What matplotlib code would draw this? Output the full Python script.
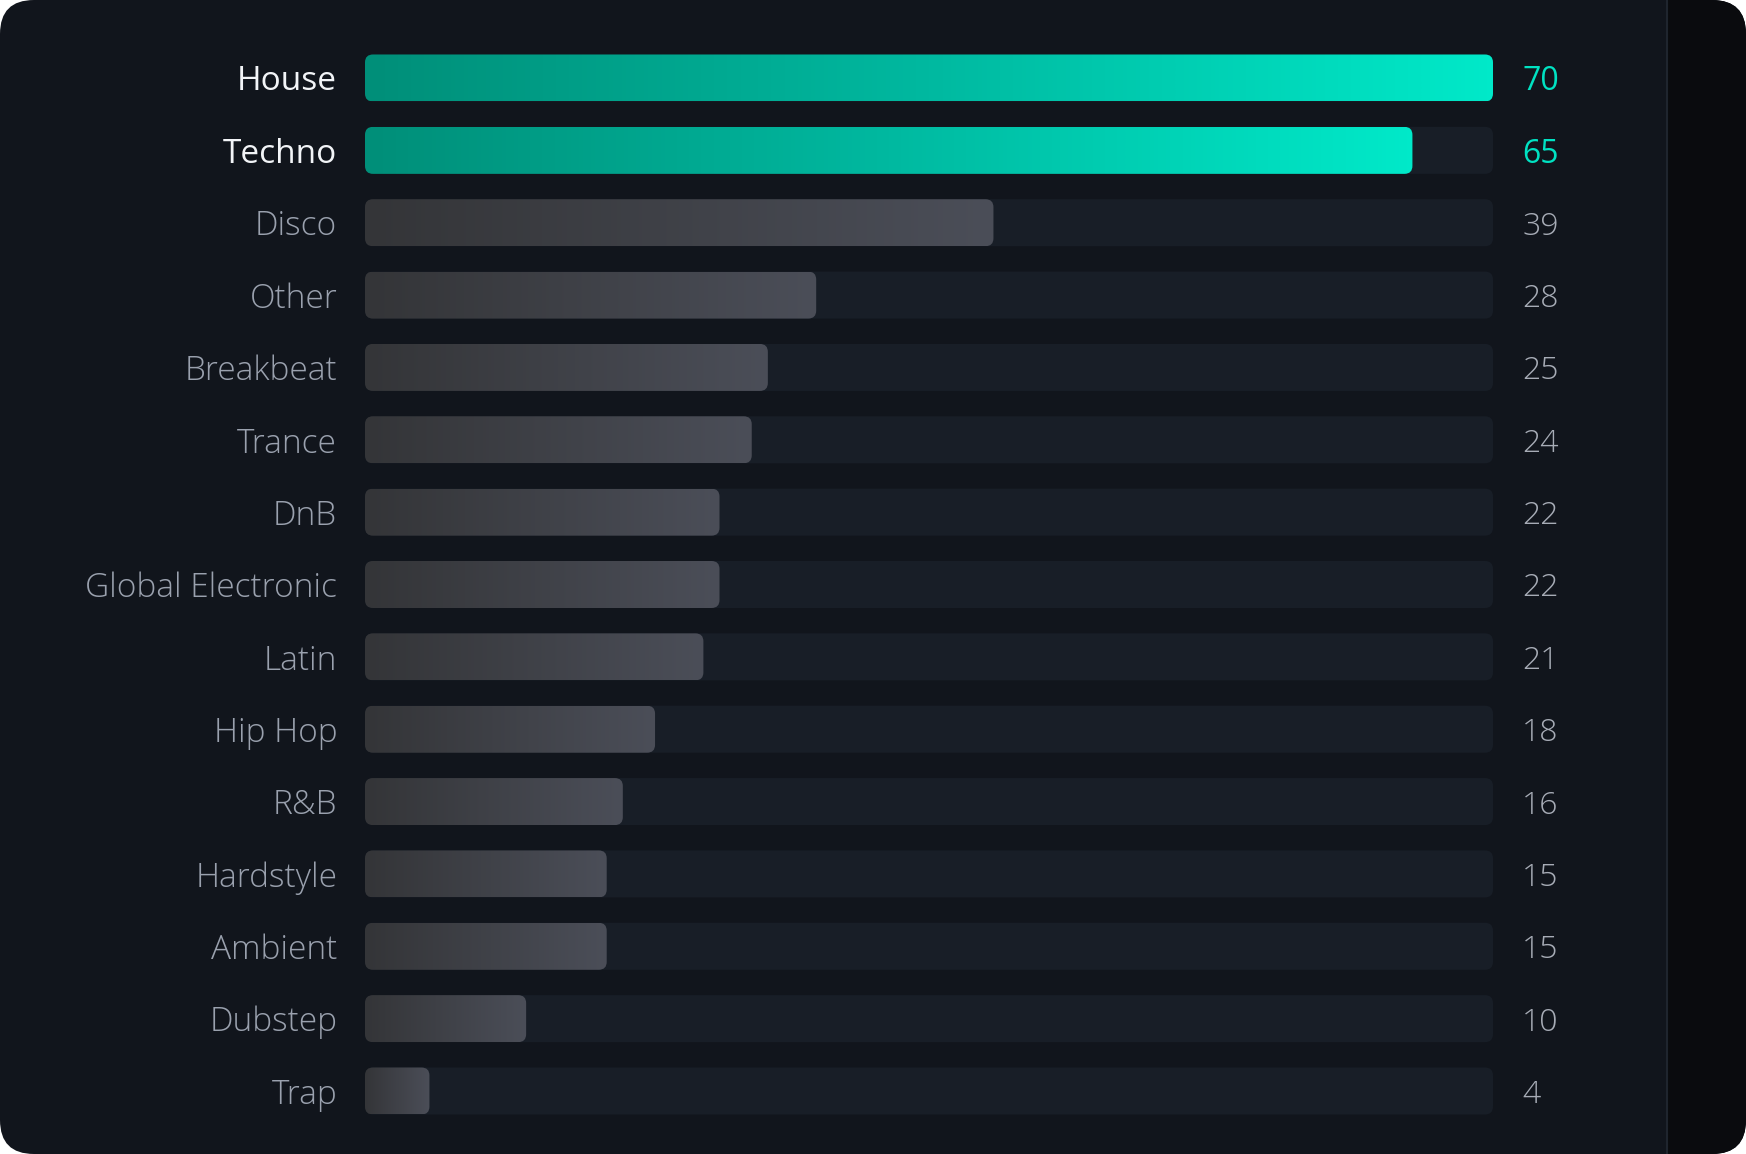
import numpy as np
import matplotlib
matplotlib.use("Agg")
import matplotlib.pyplot as plt
from matplotlib.patches import FancyBboxPatch, Rectangle
from matplotlib.colors import LinearSegmentedColormap
import matplotlib.transforms as mtransforms

genres = ["House", "Techno", "Disco", "Other", "Breakbeat", "Trance", "DnB",
          "Global Electronic", "Latin", "Hip Hop", "R&B", "Hardstyle",
          "Ambient", "Dubstep", "Trap"]
counts = [70, 65, 39, 28, 25, 24, 22, 22, 21, 18, 16, 15, 15, 10, 4]
highlight = [True, True] + [False] * 13

W, H = 1746, 1154
DPI = 100
plt.rcParams['font.family'] = ['Open Sans', 'DejaVu Sans']

fig = plt.figure(figsize=(W / DPI, H / DPI), dpi=DPI, facecolor='white')

# card background (pixel coordinates)
bg = fig.add_axes([0, 0, 1, 1])
bg.set_xlim(0, W)
bg.set_ylim(H, 0)
bg.axis('off')
card = FancyBboxPatch((0, 0), W, H, boxstyle="round,pad=0,rounding_size=34",
                      facecolor='#11151c', edgecolor='none')
bg.add_patch(card)
side = Rectangle((1667, 0), W - 1667, H, facecolor='#0a0b0e', edgecolor='none')
bg.add_patch(side)
side.set_clip_path(card)
bg.plot([1667, 1667], [0, H], color='#1f252e', lw=1.5)

# chart axes
x0, x1 = 365, 1493
row = (1091 - 78) / 14
top = 78 - row / 2
bot = 1091 + row / 2
ax = fig.add_axes([x0 / W, 1 - bot / H, (x1 - x0) / W, (bot - top) / H])
ax.set_facecolor('none')
vmax = max(counts)
for s in ax.spines.values():
    s.set_visible(False)
ax.set_xticks([])
ax.set_yticks(range(len(genres)))
ax.set_yticklabels(genres)
ax.tick_params(axis='y', length=0, pad=20)
for lbl, hl in zip(ax.get_yticklabels(), highlight):
    lbl.set_fontsize(24)
    lbl.set_verticalalignment('center_baseline')
    if hl:
        lbl.set_color('#f2f4f7')
        lbl.set_fontweight('medium')
    else:
        lbl.set_color('#9aa1ae')
        lbl.set_fontweight('light')

px_x = (x1 - x0) / vmax
aspect = px_x / row
rsize = 8 / px_x
bh = 47 / row

teal = LinearSegmentedColormap.from_list('teal', ['#008f79', '#00b9a0', '#00e9c9'])
grey = LinearSegmentedColormap.from_list('grey', ['#343538', '#4b4e58'])
grad = np.linspace(0, 1, 256).reshape(1, -1)

for i, (v, hl) in enumerate(zip(counts, highlight)):
    track = FancyBboxPatch((0, i - bh / 2), vmax, bh,
                           boxstyle=f"round,pad=0,rounding_size={rsize}",
                           mutation_aspect=aspect, facecolor='#181e27',
                           edgecolor='none', zorder=1)
    ax.add_patch(track)
    bar = FancyBboxPatch((0, i - bh / 2), v, bh,
                         boxstyle=f"round,pad=0,rounding_size={rsize}",
                         mutation_aspect=aspect, facecolor='none',
                         edgecolor='none', zorder=2)
    ax.add_patch(bar)
    im = ax.imshow(grad, cmap=teal if hl else grey, aspect='auto',
                   extent=(0, v, i + bh / 2, i - bh / 2), zorder=2,
                   interpolation='bicubic')
    im.set_clip_path(bar)
    ax.annotate(str(v), xy=(1, i),
                xycoords=mtransforms.blended_transform_factory(ax.transAxes, ax.transData),
                xytext=(21, 0), textcoords='offset points',
                va='center_baseline', ha='left',
                fontsize=23, color='#00e2c2' if hl else '#a7acb6',
                fontweight='normal' if hl else 'light')

ax.set_xlim(0, vmax)
ax.set_ylim(len(genres) - 0.5, -0.5)

fig.savefig('out.png', dpi=DPI, facecolor='white')
